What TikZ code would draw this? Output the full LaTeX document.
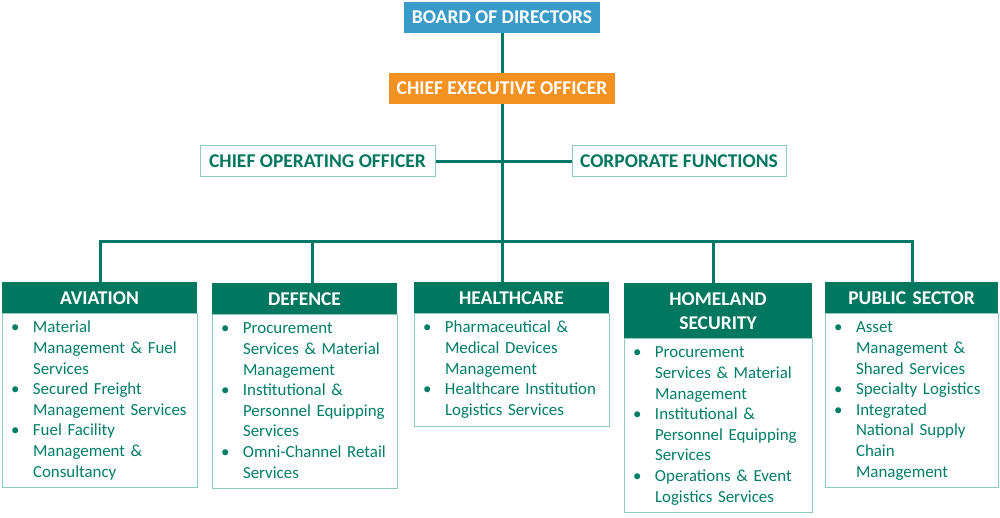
\documentclass[tikz,border=0pt]{standalone}
\usepackage{fontspec}
\setmainfont{Carlito}
\usetikzlibrary{positioning}
\definecolor{orgteal}{HTML}{00775F}
\definecolor{orgline}{HTML}{007A66}
\definecolor{orgpale}{HTML}{8FCABF}
\definecolor{orgtext}{HTML}{007D67}
\definecolor{orgblue}{HTML}{3A9AC8}
\definecolor{orgorange}{HTML}{F39121}
\newcommand{\unitlist}[1]{\begin{tabular}{@{}p{22pt}@{}l@{}}#1\end{tabular}}
\newcommand{\itm}{\textbullet &}
\begin{document}
\begin{tikzpicture}[x=1pt,y=-1pt,
    topbox/.style={inner sep=0pt, minimum height=31pt, text=white,
      font=\fontsize{19.5}{22}\selectfont\bfseries},
    staffbox/.style={draw=orgpale, line width=1pt, fill=white, inner sep=0pt,
      minimum height=31pt, text=orgteal, font=\fontsize{19.5}{22}\selectfont\bfseries},
    unithead/.style={fill=orgteal, text=white, inner sep=0pt, minimum height=31pt,
      align=center, anchor=north, font=\fontsize{19.5}{24}\selectfont\bfseries},
    unitbody/.style={draw=orgpale, line width=1pt, inner xsep=9pt, inner ysep=4.6pt,
      align=left, text=orgtext, font=\fontsize{16.9}{20.6}\selectfont},
    link/.style={draw=orgline, line width=3pt}]
  \useasboundingbox (0,0) rectangle (1000,517);
  % top of the chart
  \node[topbox, fill=orgblue, minimum width=196pt] (board) at (502,17.5) {BOARD OF DIRECTORS};
  \node[topbox, fill=orgorange, minimum width=226pt] (ceo) at (502,88.5) {CHIEF EXECUTIVE OFFICER};
  \node[staffbox, minimum width=235pt] (coo) at (317.5,161) {CHIEF OPERATING OFFICER};
  \node[staffbox, minimum width=214pt] (corp) at (679,161) {CORPORATE FUNCTIONS};
  \coordinate (bus) at (502,241);
  % business units
  \node[unithead, text width=195pt] (aviation) at (99.5,282) {AVIATION};
  \node[unithead, text width=185pt] (defence) at (304.5,283) {DEFENCE};
  \node[unithead, text width=195pt] (healthcare) at (511.5,282) {HEALTHCARE};
  \node[unithead, text width=188pt, minimum height=55pt] (homeland) at (718,283) {HOMELAND\\SECURITY};
  \node[unithead, text width=173pt] (public) at (911.5,282) {PUBLIC SECTOR};
  \node[unitbody, text width=177pt, below=0pt of aviation] (aviationlist) {\unitlist{
      \itm Material\\ & Management \& Fuel\\ & Services\\
      \itm Secured Freight\\ & Management Services\\
      \itm Fuel Facility\\ & Management \&\\ & Consultancy}};
  \node[unitbody, text width=167pt, below=0pt of defence] (defencelist) {\unitlist{
      \itm Procurement\\ & Services \& Material\\ & Management\\
      \itm Institutional \&\\ & Personnel Equipping\\ & Services\\
      \itm Omni-Channel Retail\\ & Services}};
  \node[unitbody, text width=177pt, below=0pt of healthcare] (healthcarelist) {\unitlist{
      \itm Pharmaceutical \&\\ & Medical Devices\\ & Management\\
      \itm Healthcare Institution\\ & Logistics Services}};
  \node[unitbody, text width=170pt, below=0pt of homeland] (homelandlist) {\unitlist{
      \itm Procurement\\ & Services \& Material\\ & Management\\
      \itm Institutional \&\\ & Personnel Equipping\\ & Services\\
      \itm Operations \& Event\\ & Logistics Services}};
  \node[unitbody, text width=155pt, below=0pt of public] (publiclist) {\unitlist{
      \itm Asset\\ & Management \&\\ & Shared Services\\
      \itm Specialty Logistics\\
      \itm Integrated\\ & National Supply\\ & Chain\\ & Management}};
  % connectors
  \draw[link] (board) -- (ceo);
  \draw[link] (ceo) -- (bus);
  \draw[link] (coo) -- (corp);
  \draw[link] (aviation.north -| 100,0) |- (912,241) -- (public.north -| 912,0);
  \foreach \unit/\x in {defence/312, healthcare/502, homeland/713}
    \draw[link] (\x,241) -- (\unit.north -| \x,0);
\end{tikzpicture}
\end{document}
